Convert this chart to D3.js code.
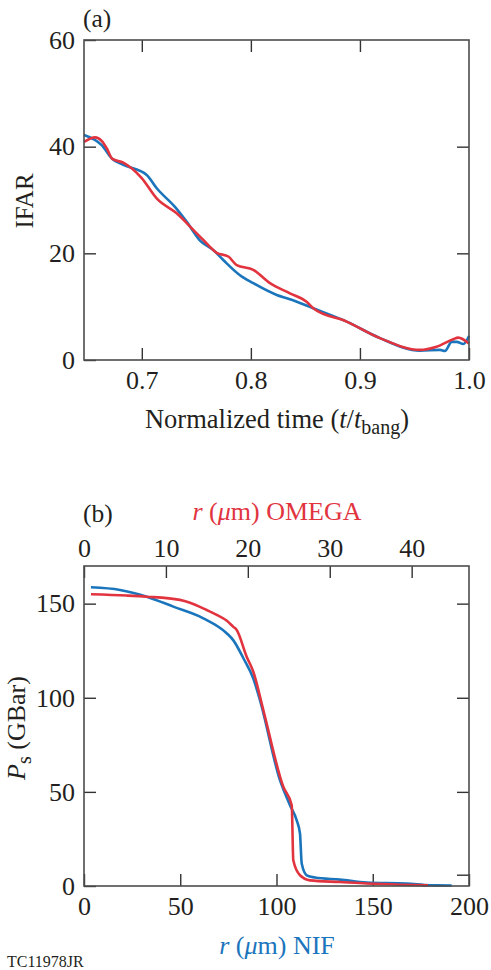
<!DOCTYPE html>
<html>
<head>
<meta charset="utf-8">
<script src="https://cdn.jsdelivr.net/npm/d3@7"></script>
<style>
  body { margin: 0; background: #fff; }
</style>
</head>
<body>
<svg id="chart" width="491" height="970"></svg>
<script>
// panel (a): IFAR vs normalized time
const ifarTimeBlue = [0.647, 0.6632, 0.673, 0.683, 0.7045, 0.7137, 0.7304, 0.7412, 0.7534, 0.7656, 0.7747, 0.79, 0.8022, 0.8237, 0.8358, 0.8572, 0.8878, 0.9184, 0.955, 0.9734, 0.978, 0.9841, 0.9887, 0.9948, 1.0];
const ifarBlue     = [42.2, 40.3, 37.7, 36.6, 34.7, 32.2, 28.7, 25.9, 22.4, 20.6, 18.75, 15.9, 14.4, 12.2, 11.4, 9.7, 7.2, 4.1, 1.75, 1.9, 1.7, 3.4, 3.4, 3.0, 4.5];
const ifarTimeRed  = [0.647, 0.6571, 0.6632, 0.6678, 0.673, 0.683, 0.6999, 0.7136, 0.732, 0.7472, 0.7564, 0.7687, 0.7793, 0.787, 0.8022, 0.8175, 0.8358, 0.8511, 0.8572, 0.8878, 0.9184, 0.955, 0.9703, 0.9855, 0.9901, 1.0];
const ifarRed      = [40.9, 41.75, 41.1, 39.7, 37.7, 37.0, 34.1, 30.3, 27.5, 24.4, 22.5, 20.1, 19.4, 17.8, 16.9, 14.4, 12.5, 10.9, 9.7, 7.2, 4.1, 1.9, 2.5, 3.9, 4.2, 3.1];
const timeTicks = [0.7, 0.8, 0.9, 1.0];
const ifarTicks = [0, 20, 40, 60];

// panel (b): stagnation pressure vs radius
const rNif    = [3.6, 18.7, 32.6, 46.4, 62.0, 74.1, 77.6, 82.8, 87.9, 91.4, 101.8, 107.0, 110.5, 112.2, 113.1, 115.7, 120.0, 133.0, 146.9, 167.7, 179.7, 191.0];
const psNif   = [158.7, 157.3, 153.7, 148.4, 142.2, 134.3, 130.5, 121.0, 110.3, 98.8, 56.2, 42.9, 34.9, 27.9, 11.9, 5.7, 4.5, 3.4, 1.8, 1.3, 0.4, 0.3];
const rOmega  = [0.85, 5.2, 7.65, 11.7, 12.94, 14.98, 16.2, 17.4, 18.2, 18.64, 19.86, 20.67, 21.89, 24.33, 25.36, 25.55, 26.37, 27.59, 31.25, 34.5, 38.6, 42.0];
const psOmega = [155.0, 154.3, 153.7, 152.0, 150.5, 146.6, 144.0, 141.0, 137.8, 136.0, 121.8, 113.8, 93.5, 52.7, 42.9, 13.7, 5.7, 3.0, 2.1, 1.3, 0.7, 0.4];
const nifTicks = [0, 50, 100, 150, 200];
const omegaTicks = [0, 10, 20, 30, 40];
const psTicks = [0, 50, 100, 150];
const psRightTicks = [6, 50, 100, 150];

const BLUE = "#1b75bc";
const RED = "#e1343f";
const FONT = "'Liberation Serif', 'Times New Roman', serif";
const svg = d3.select("#chart");

function frame(g, x0, x1, y0, y1) {
  g.append("rect")
    .attr("x", x0).attr("y", y0)
    .attr("width", x1 - x0).attr("height", y1 - y0)
    .attr("fill", "none").attr("stroke", "#4d4d4d").attr("stroke-width", 1.6);
}

function styleAxis(sel, showText) {
  sel.select(".domain").remove();
  sel.selectAll(".tick line").attr("stroke", "#333").attr("stroke-width", 1.4);
  sel.selectAll(".tick text")
    .style("font-family", FONT)
    .style("font-size", "26px")
    .style("fill", "#231f20");
  if (!showText) sel.selectAll(".tick text").remove();
}

// a text label with optional italic / subscript pieces
function label(g, x, y, parts, opts) {
  let t = g.append("text")
    .attr("transform", `translate(${x},${y})` + (opts.rotate ? " rotate(-90)" : ""))
    .attr("text-anchor", opts.anchor || "middle")
    .style("font-family", FONT)
    .style("font-size", (opts.size || 26) + "px")
    .style("fill", opts.color || "#231f20");
  let shift = 0;
  parts.forEach(p => {
    let s = t.append("tspan").text(p.t);
    if (p.i) s.style("font-style", "italic");
    let want = p.sub ? 6 : 0;
    if (want != shift) { s.attr("dy", want - shift); shift = want; }
    if (p.sub) s.style("font-size", "20px");
  });
  return t;
}

function drawLine(g, xs, ys, x, y, color) {
  let pts = xs.map((d, i) => [d, ys[i]]);
  g.append("path")
    .datum(pts)
    .attr("fill", "none")
    .attr("stroke", color)
    .attr("stroke-width", 2.6)
    .attr("stroke-linejoin", "round")
    .attr("d", d3.line().x(d => x(d[0])).y(d => y(d[1])).curve(d3.curveMonotoneX));
}

// ---------- panel (a) ----------
{
  const L = 84, R = 469, T = 40, B = 360;
  let x = d3.scaleLinear().domain([0.647, 1.0]).range([L, R]);
  let y = d3.scaleLinear().domain([0, 60]).range([B, T]);
  let g = svg.append("g");

  g.append("g").attr("transform", `translate(0,${B})`)
    .call(d3.axisBottom(x).tickValues(timeTicks).tickSize(-12).tickPadding(11).tickFormat(d3.format(".1f")))
    .call(s => styleAxis(s, true));
  g.append("g").attr("transform", `translate(0,${T})`)
    .call(d3.axisTop(x).tickValues([0.7, 0.8, 0.9]).tickSize(-12))
    .call(s => styleAxis(s, false));
  g.append("g").attr("transform", `translate(${L},0)`)
    .call(d3.axisLeft(y).tickValues(ifarTicks).tickSize(-12).tickPadding(9))
    .call(s => styleAxis(s, true));
  g.append("g").attr("transform", `translate(${R},0)`)
    .call(d3.axisRight(y).tickValues([20, 40]).tickSize(-12))
    .call(s => styleAxis(s, false));

  drawLine(g, ifarTimeBlue, ifarBlue, x, y, BLUE);
  drawLine(g, ifarTimeRed, ifarRed, x, y, RED);
  frame(g, L, R, T, B);

  label(g, 83, 27, [{t: "(a)"}], {anchor: "start", size: 25.5});
  label(g, 33, 201, [{t: "IFAR"}], {rotate: true, size: 25});
  label(g, 277, 428, [{t: "Normalized time ("}, {t: "t", i: true}, {t: "/"}, {t: "t", i: true}, {t: "bang", sub: true}, {t: ")"}], {size: 26.5});
}

// ---------- panel (b) ----------
{
  const L = 84, R = 469, T = 566, B = 886;
  let xNif = d3.scaleLinear().domain([0, 200]).range([L, R]);
  let xOmega = d3.scaleLinear().domain([0, 47]).range([L, R]);
  let y = d3.scaleLinear().domain([0, 170]).range([B, T]);
  let g = svg.append("g");

  g.append("g").attr("transform", `translate(0,${B})`)
    .call(d3.axisBottom(xNif).tickValues(nifTicks).tickSize(-12).tickPadding(11))
    .call(s => styleAxis(s, true));
  g.append("g").attr("transform", `translate(0,${T})`)
    .call(d3.axisTop(xOmega).tickValues(omegaTicks).tickSize(-12).tickPadding(9))
    .call(s => styleAxis(s, true));
  g.append("g").attr("transform", `translate(${L},0)`)
    .call(d3.axisLeft(y).tickValues(psTicks).tickSize(-12).tickPadding(9))
    .call(s => styleAxis(s, true));
  g.append("g").attr("transform", `translate(${R},0)`)
    .call(d3.axisRight(y).tickValues(psRightTicks).tickSize(-12))
    .call(s => styleAxis(s, false));

  drawLine(g, rNif, psNif, xNif, y, BLUE);
  drawLine(g, rOmega, psOmega, xOmega, y, RED);
  frame(g, L, R, T, B);

  label(g, 83, 522, [{t: "(b)"}], {anchor: "start", size: 25.5});
  label(g, 277, 520, [{t: "r", i: true}, {t: " ("}, {t: "\u03bc", i: true}, {t: "m) OMEGA"}], {color: RED});
  label(g, 277, 954, [{t: "r", i: true}, {t: " ("}, {t: "\u03bc", i: true}, {t: "m) NIF"}], {color: BLUE});
  label(g, 25, 728, [{t: "P", i: true}, {t: "s", sub: true}, {t: " (GBar)"}], {rotate: true});
  label(g, 7, 967, [{t: "TC11978JR"}], {anchor: "start", size: 16});
}
</script>
</body>
</html>
